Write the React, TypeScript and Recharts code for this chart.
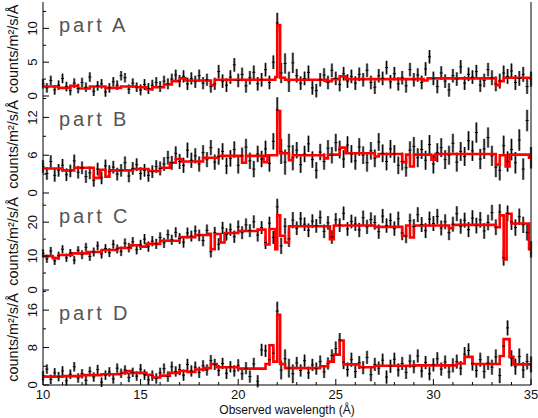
import React from "react";
import { ComposedChart, Scatter, Line, XAxis, YAxis, ErrorBar } from "recharts";

// spectra binned at 0.2 A starting at 10 A
const BIN_START = 10;
const BIN_WIDTH = 0.2;

const X_TICKS = [10, 11, 12, 13, 14, 15, 16, 17, 18, 19, 20, 21, 22, 23, 24, 25, 26, 27, 28, 29, 30, 31, 32, 33, 34, 35];
const X_MAJOR = [10, 15, 20, 25, 30, 35];

// part A
const valuesA = [
  1.8, 1.2, 2.3, 0.9, 1.6, 2.6, 1.4, 0.8, 1.9, 1.1,
  2.0, 1.3, 2.8, 0.7, 1.5, 1.8, 0.6, 1.2, 2.1, 1.6,
  3.0, 2.7, 1.0, 1.9, 1.3, 0.9, 1.7, 1.1, 1.6, 2.0,
  1.4, 2.2, 1.8, 2.5, 3.1, 2.2, 2.9, 1.8, 2.6, 2.1,
  3.0, 1.9, 2.4, 1.4, 1.8, 3.6, 2.2, 1.6, 2.8, 4.6,
  2.3, 3.2, 1.5, 2.7, 3.5, 1.8, 2.4, 3.9, 2.0, 5.0,
  10.8, 3.4, 4.8, 2.1, 4.9, 3.0, 1.9, 2.6, 3.5, 1.2,
  0.8, 2.4, 3.1, 2.0, 3.8, 2.6, 1.7, 3.3, 2.2, 2.9,
  1.9, 3.2, 2.4, 3.8, 2.0, 1.3, 3.0, 2.6, 4.2, 2.1,
  3.3, 1.8, 2.7, 1.5, 3.9, 2.4, 3.1, 2.0, 4.0, 5.8,
  2.6, 1.4, 3.4, 2.2, 0.9, 3.0, 2.5, 4.3, 1.9, 3.2,
  2.8, 3.6, 1.6, 2.3, 3.9, 2.7, 1.8, 2.2, 3.4, 2.9,
  3.7, 2.0, 2.6, 3.2, 1.4, 2.5,
];
const errA = [0.7, 0.7, 0.7, 0.7, 0.7, 0.8, 0.8, 0.9, 0.9, 1.0, 1.0, 1.0, 1.5, 1.0, 1.0, 1.0, 1.0, 1.0, 1.0, 1.0, 1.0, 1.0, 1.0, 1.1, 1.1, 1.1];
const modelWaveA = [10.0, 10.8, 11.4, 11.8, 12.4, 13.2, 14.0, 14.8, 15.3, 15.6, 16.2, 16.6, 17.0, 17.3, 18.6, 18.8, 21.9, 22.0, 22.15, 22.4, 24.5, 24.8, 25.2, 25.5, 29.5, 29.7, 33.2, 33.4, 33.6, 35.0];
const modelA = [1.4, 1.2, 1.5, 1.1, 1.4, 1.2, 1.4, 1.3, 1.0, 1.3, 1.7, 2.2, 2.6, 2.3, 1.6, 2.4, 2.8, 10.5, 2.7, 2.4, 2.2, 2.5, 2.9, 2.5, 2.3, 2.6, 1.6, 2.2, 2.7, 2.7];

// part B
const valuesB = [
  4.2, 3.1, 5.0, 2.8, 3.6, 4.4, 2.9, 3.5, 5.1, 3.3,
  4.0, 2.6, 3.2, 2.0, 3.8, 2.4, 4.3, 3.4, 4.1, 3.0,
  3.6, 4.8, 2.7, 3.9, 4.5, 3.1, 3.6, 2.8, 3.4, 4.2,
  3.9, 4.6, 5.6, 4.8, 6.3, 5.0, 4.4, 6.8, 5.2, 5.9,
  4.6, 6.4, 5.3, 7.2, 4.9, 5.8, 6.6, 4.3, 5.5, 6.9,
  4.4, 5.9, 7.3, 5.1, 3.8, 6.2, 5.4, 7.0, 4.7, 8.2,
  13.2, 6.6, 4.9, 7.4, 5.6, 6.8, 4.5, 6.2, 7.8, 5.3,
  3.6, 6.5, 5.0, 7.1, 6.0, 8.0, 6.9, 5.4, 7.6, 6.2,
  5.1, 7.3, 6.0, 4.8, 6.7, 5.5, 8.1, 6.3, 5.0, 7.0,
  6.2, 4.4, 5.0, 4.0, 6.8, 7.4, 5.6, 6.9, 5.2, 7.7,
  4.6, 6.4, 7.2, 5.3, 6.0, 7.9, 4.9, 6.6, 5.8, 8.3,
  6.7, 9.6, 5.4, 7.0, 8.8, 5.9, 4.1, 3.6, 7.5, 5.0,
  6.9, 4.8, 8.4, 3.8, 11.5, 5.6,
];
const errB = [1.0, 1.0, 1.0, 1.0, 1.0, 1.0, 1.1, 1.2, 1.2, 1.3, 1.3, 1.3, 2.0, 1.3, 1.3, 1.4, 1.4, 1.4, 1.4, 1.5, 1.5, 1.5, 1.6, 1.6, 1.7, 1.7];
const modelWaveB = [10.0, 11.0, 11.6, 12.6, 12.9, 13.2, 13.4, 14.6, 15.4, 16.0, 16.5, 16.8, 17.1, 18.2, 19.0, 20.2, 20.4, 21.3, 21.5, 22.0, 22.15, 22.6, 22.8, 24.4, 24.6, 25.2, 25.5, 27.0, 27.2, 28.4, 28.6, 28.8, 29.0, 29.9, 30.1, 33.2, 33.4, 33.7, 33.9, 34.9, 35.0];
const modelB = [3.9, 3.6, 4.0, 2.4, 3.7, 2.6, 3.6, 3.8, 3.5, 4.0, 4.8, 5.4, 5.0, 5.6, 5.9, 4.8, 5.9, 4.9, 6.0, 13.0, 6.3, 5.2, 6.0, 5.5, 6.1, 7.2, 6.3, 5.8, 6.2, 4.9, 6.1, 4.2, 6.1, 5.3, 6.2, 4.5, 6.0, 4.2, 6.1, 5.6, 5.6];

// part C
const valuesC = [
  10.8, 9.2, 11.5, 8.6, 10.1, 12.0, 9.5, 10.9, 8.8, 11.7,
  10.4, 12.6, 9.9, 11.2, 13.0, 10.6, 12.2, 11.0, 13.5, 12.1,
  11.4, 13.8, 12.5, 14.2, 11.9, 13.3, 15.0, 12.8, 14.4, 13.6,
  15.5, 13.9, 16.3, 14.8, 17.0, 15.2, 14.1, 16.8, 15.9, 17.4,
  16.1, 14.6, 17.6, 11.3, 16.9, 13.5, 18.3, 16.4, 17.8, 15.7,
  18.6, 16.9, 19.2, 17.5, 20.1, 16.2, 18.4, 14.0, 19.7, 15.5,
  24.5, 13.0, 18.8, 15.1, 20.6, 18.2, 21.0, 19.4, 17.6, 20.3,
  18.9, 21.4, 17.3, 19.8, 15.6, 20.7, 19.1, 22.6, 18.0, 20.2,
  19.5, 17.7, 21.3, 18.6, 20.8, 19.9, 17.2, 21.8, 19.0, 20.5,
  18.1, 21.0, 16.8, 15.9, 20.4, 18.7, 22.2, 19.3, 17.5, 20.9,
  19.6, 21.7, 18.3, 20.1, 16.9, 19.4, 22.5, 18.8, 20.6, 17.8,
  21.2, 19.0, 20.7, 17.4, 19.9, 22.8, 18.5, 23.0, 9.5, 22.6,
  20.1, 18.4, 21.6, 19.2, 17.0, 12.0,
];
const errC = [1.2, 1.2, 1.3, 1.3, 1.4, 1.5, 1.5, 1.6, 1.7, 1.8, 1.9, 1.9, 2.4, 2.0, 2.0, 2.0, 2.1, 2.1, 2.1, 2.2, 2.2, 2.2, 2.3, 2.3, 2.4, 2.4];
const modelWaveC = [10.0, 10.5, 10.8, 11.5, 12.3, 13.0, 13.8, 14.5, 15.0, 15.3, 16.0, 17.0, 17.8, 18.5, 18.6, 18.8, 19.1, 19.3, 20.0, 21.0, 21.4, 21.6, 21.9, 22.0, 22.15, 22.4, 22.6, 24.7, 24.9, 27.0, 28.4, 28.6, 28.8, 29.0, 30.8, 31.0, 33.2, 33.4, 33.6, 33.75, 34.0, 34.9, 35.0];
const modelC = [10.0, 9.4, 10.3, 10.8, 11.2, 11.8, 12.4, 13.2, 12.8, 13.6, 14.5, 15.6, 16.2, 16.6, 12.0, 16.5, 14.0, 16.8, 17.4, 17.8, 13.4, 18.0, 12.0, 22.0, 16.0, 14.0, 18.8, 15.0, 19.0, 18.6, 16.0, 19.0, 15.5, 19.0, 18.2, 19.2, 18.5, 22.0, 9.0, 22.5, 19.6, 12.0, 12.0];

// part D
const valuesD = [
  2.0, 3.4, 1.2, 2.6, 1.8, 3.0, 0.9, 2.3, 3.9, 1.5,
  2.4, 1.0, 2.9, 1.7, 3.3, 0.6, 2.1, 2.8, 1.3, 3.6,
  2.5, 3.2, 1.6, 2.7, 1.9, 3.4, 2.2, 1.1, 2.0, 1.4,
  2.6, 3.5, 1.8, 3.9, 2.9, 3.3, 2.1, 4.4, 3.0, 3.8,
  2.7, 4.1, 3.2, 5.2, 4.4, 3.1, 4.6, 2.5, 3.9, 3.0,
  4.2, 2.4, 3.6, 1.8, 4.5, 0.8, 7.5, 7.3, 5.4, 6.8,
  15.8, 3.2, 5.6, 3.6, 2.4, 4.7, 3.1, 5.2, 2.6, 4.3,
  3.5, 5.0, 2.8, 4.6, 6.3, 7.8, 9.6, 4.9, 3.3, 5.4,
  2.9, 4.8, 3.7, 5.9, 2.2, 4.4, 3.6, 5.3, 1.7, 4.0,
  5.5, 3.2, 4.6, 2.7, 5.1, 3.9, 6.2, 3.0, 4.8, 2.4,
  4.3, 5.6, 3.4, 4.9, 2.8, 4.2, 5.0, 3.6, 6.6, 7.4,
  4.6, 3.1, 5.4, 2.9, 4.7, 3.8, 6.0, 2.0, 8.3, 12.2,
  5.7, 3.9, 6.1, 3.2, 5.0, 4.4,
];
const errD = [1.0, 1.0, 1.0, 1.0, 1.0, 1.1, 1.1, 1.2, 1.2, 1.2, 1.3, 1.3, 2.0, 1.3, 1.3, 1.5, 1.4, 1.4, 1.4, 1.4, 1.4, 1.5, 1.5, 1.6, 1.7, 1.7];
const modelWaveD = [10.0, 11.0, 12.0, 13.0, 14.0, 14.3, 14.5, 15.3, 15.6, 16.0, 16.5, 17.0, 17.4, 17.8, 18.3, 18.6, 18.9, 20.0, 21.4, 21.6, 21.8, 22.0, 22.15, 22.4, 24.2, 24.6, 24.9, 25.2, 25.4, 26.2, 27.0, 29.0, 31.2, 31.6, 32.0, 33.4, 33.6, 33.9, 34.1, 35.0];
const modelD = [1.8, 1.9, 2.1, 2.3, 2.6, 3.0, 2.6, 2.2, 1.6, 2.0, 2.6, 3.0, 2.8, 3.3, 3.6, 4.5, 3.8, 3.5, 4.5, 8.5, 5.0, 15.0, 4.5, 3.6, 4.0, 5.0, 6.5, 9.5, 4.4, 3.8, 4.1, 4.2, 4.6, 6.0, 4.5, 6.2, 9.8, 6.0, 4.4, 4.4];

const panels = [
  { name: "part A", values: valuesA, err: errA, modelWave: modelWaveA, model: modelA, yMax: 13.9, yTicks: [0, 2.5, 5, 7.5, 10, 12.5], yMajor: [0, 5, 10], top: 2, height: 94 },
  { name: "part B", values: valuesB, err: errB, modelWave: modelWaveB, model: modelB, yMax: 15.4, yTicks: [0, 3, 6, 9, 12, 15], yMajor: [0, 6, 12], top: 96, height: 97 },
  { name: "part C", values: valuesC, err: errC, modelWave: modelWaveC, model: modelC, yMax: 28.6, yTicks: [0, 5, 10, 15, 20, 25], yMajor: [0, 10, 20], top: 193, height: 97 },
  { name: "part D", values: valuesD, err: errD, modelWave: modelWaveD, model: modelD, yMax: 20.3, yTicks: [0, 4, 8, 12, 16, 20], yMajor: [0, 8, 16], top: 290, height: 95 },
];

const FONT = "'Liberation Sans', Arial, sans-serif";

function XTick(props: any) {
  const { x, y, payload, side, showLabel } = props;
  const major = X_MAJOR.includes(payload.value);
  const len = major ? 6 : 3;
  const dir = side === "top" ? 1 : -1;
  return (
    <g>
      <line x1={x} x2={x} y1={y} y2={y + dir * len} stroke="#000" strokeWidth={1} />
      {showLabel && major && (
        <text x={x} y={y + 14} textAnchor="middle" fontSize={13} fontFamily={FONT} fill="#111">
          {payload.value}
        </text>
      )}
    </g>
  );
}

function YTick(props: any) {
  const { x, y, payload, side, major } = props;
  const isMajor = major.includes(payload.value);
  const len = isMajor ? 6 : 3;
  const dir = side === "left" ? 1 : -1;
  return (
    <g>
      <line x1={x} x2={x + dir * len} y1={y} y2={y} stroke="#000" strokeWidth={1} />
      {side === "left" && isMajor && (
        <text
          transform={`translate(${x - 11},${y}) rotate(-90)`}
          textAnchor="middle"
          dominantBaseline="central"
          fontSize={13}
          fontFamily={FONT}
          fill="#111"
        >
          {payload.value}
        </text>
      )}
    </g>
  );
}

function YTitle(props: any) {
  const { viewBox } = props;
  const cy = viewBox.y + viewBox.height / 2;
  return (
    <text
      transform={`translate(13,${cy}) rotate(-90)`}
      textAnchor="middle"
      dominantBaseline="central"
      fontSize={14.5}
      fontFamily={FONT}
      fill="#111"
    >
      counts/m²/s/Å
    </text>
  );
}

function Panel({ p, last }: { p: any; last: boolean }) {
  const points = p.values.map((v: number, i: number) => ({
    x: BIN_START + BIN_WIDTH * i,
    y: v,
    e: p.err[Math.floor(i / 5)],
  }));
  const model = p.modelWave.map((w: number, i: number) => ({ x: w, y: p.model[i] }));
  const axisH = last ? 33 : 0;

  return (
    <div style={{ position: "absolute", left: 0, top: p.top }}>
      <ComposedChart width={538} height={p.height + axisH} margin={{ top: 0, right: 0, bottom: 0, left: 0 }}>
        <XAxis
          xAxisId="b"
          dataKey="x"
          type="number"
          domain={[10, 35]}
          ticks={X_TICKS}
          interval={0}
          allowDataOverflow
          height={axisH}
          tickSize={0}
          tickMargin={0}
          tickLine={false}
          axisLine={{ stroke: "#000" }}
          tick={(t: any) => <XTick {...t} side="bottom" showLabel={last} />}
          label={last ? { value: "Observed wavelength (Å)", position: "insideBottom", offset: 4, fontSize: 12, fontFamily: FONT, fill: "#111" } : undefined}
        />
        <XAxis
          xAxisId="t"
          orientation="top"
          dataKey="x"
          type="number"
          domain={[10, 35]}
          ticks={X_TICKS}
          interval={0}
          height={0}
          tickSize={0}
          tickMargin={0}
          tickLine={false}
          axisLine={{ stroke: "#000" }}
          tick={(t: any) => <XTick {...t} side="top" />}
        />
        <YAxis
          yAxisId="l"
          type="number"
          domain={[0, p.yMax]}
          ticks={p.yTicks}
          interval={0}
          allowDataOverflow
          width={43}
          tickSize={0}
          tickMargin={0}
          tickLine={false}
          axisLine={{ stroke: "#000" }}
          tick={(t: any) => <YTick {...t} side="left" major={p.yMajor} />}
          label={<YTitle />}
        />
        <YAxis
          yAxisId="r"
          orientation="right"
          type="number"
          domain={[0, p.yMax]}
          ticks={p.yTicks}
          interval={0}
          width={7}
          tickSize={0}
          tickMargin={0}
          tickLine={false}
          axisLine={{ stroke: "#000" }}
          tick={(t: any) => <YTick {...t} side="right" major={p.yMajor} />}
        />
        <Scatter
          xAxisId="b"
          yAxisId="l"
          data={points}
          dataKey="y"
          isAnimationActive={false}
          shape={(s: any) => <line x1={s.cx - 1.5} x2={s.cx + 1.5} y1={s.cy} y2={s.cy} stroke="#000" strokeWidth={1} />}
        >
          <ErrorBar dataKey="e" direction="y" width={0} stroke="#8a8a8a" strokeWidth={2.5} />
          <ErrorBar dataKey="e" direction="y" width={0} stroke="#000" strokeWidth={1} />
        </Scatter>
        <Line
          xAxisId="b"
          yAxisId="l"
          data={model}
          dataKey="y"
          type="stepAfter"
          stroke="#ff0000"
          strokeWidth={2.6}
          dot={false}
          activeDot={false}
          isAnimationActive={false}
        />
      </ComposedChart>
      <div
        style={{
          position: "absolute",
          left: 59,
          top: 11,
          fontFamily: FONT,
          fontSize: 20,
          letterSpacing: 2.8,
          color: "#555",
          lineHeight: "24px",
          whiteSpace: "pre",
        }}
      >
        {p.name}
      </div>
    </div>
  );
}

export default function App() {
  return (
    <div style={{ position: "absolute", left: 0, top: 0, width: 538, height: 418, background: "#fff" }}>
      <style>{`.recharts-surface { overflow: visible; }`}</style>
      {panels.map((p, i) => (
        <Panel key={p.name} p={p} last={i === panels.length - 1} />
      ))}
    </div>
  );
}
